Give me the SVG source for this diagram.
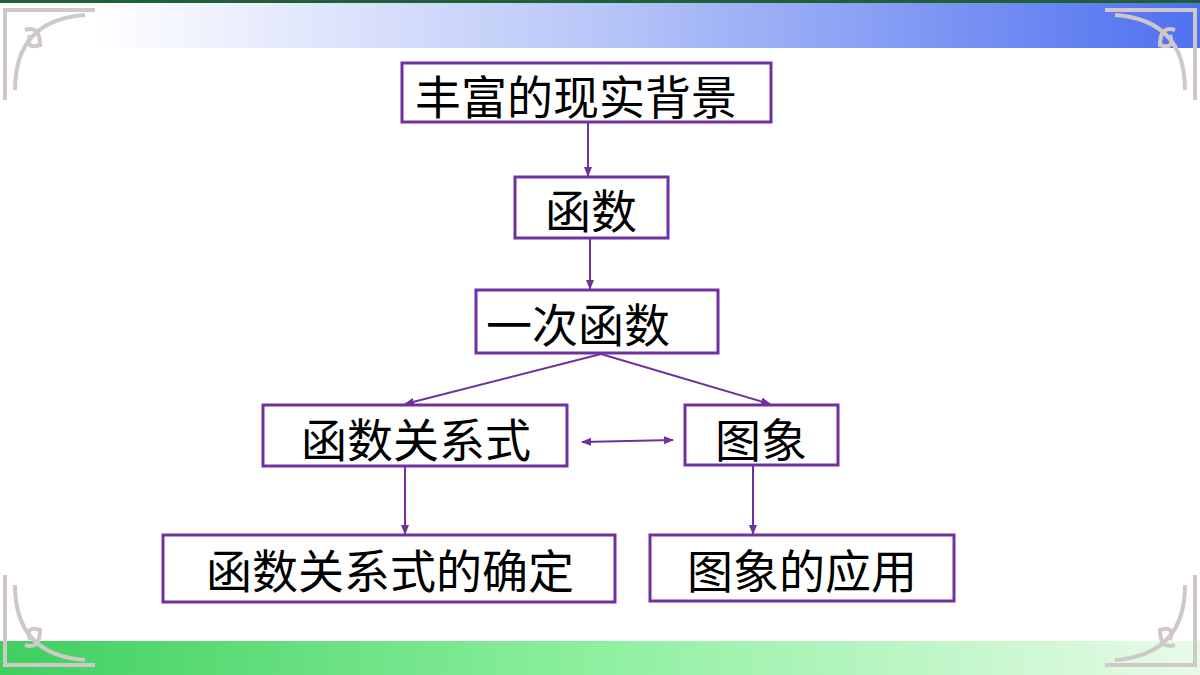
<svg xmlns="http://www.w3.org/2000/svg" width="1200" height="675" viewBox="0 0 1200 675">
<defs>
<linearGradient id="top" x1="0" x2="1" y1="0" y2="0"><stop offset="0.08" stop-color="#ffffff"/><stop offset="0.5" stop-color="#b8c6f8"/><stop offset="1" stop-color="#4f70f0"/></linearGradient>
<linearGradient id="bot" x1="0" x2="1" y1="0" y2="0"><stop offset="0" stop-color="#3fcf5f"/><stop offset="0.5" stop-color="#8ef0a0"/><stop offset="1" stop-color="#e8fbe8"/></linearGradient>
<marker id="ah" viewBox="0 0 10 10" refX="9" refY="5" markerWidth="5" markerHeight="5" orient="auto-start-reverse"><path d="M0,1 L10,5 L0,9 z" fill="#7030a0"/></marker>
</defs>
<style>
.box{fill:#fff;stroke:#7030a0;stroke-width:3}
.t{font-family:"Noto Sans CJK SC",sans-serif;font-size:46px;fill:#000;text-anchor:middle;dominant-baseline:central}
.c{stroke:#7030a0;stroke-width:2;fill:none;marker-end:url(#ah)}
.orn{stroke:#d0c8c8;stroke-width:4;fill:none}
</style>
<rect width="1200" height="675" fill="#fff"/>
<rect x="0" y="3" width="1200" height="45" fill="url(#top)"/>
<rect x="0" y="0" width="1200" height="3" fill="#1f5f3a"/>
<rect x="0" y="641" width="1200" height="34" fill="url(#bot)"/>
<g class="orn">
<path d="M5,100 V10 H95 M15,90 Q15,20 85,15 M25,30 Q40,25 40,45 Q25,50 30,35"/>
<path d="M1195,100 V10 H1105 M1185,90 Q1185,20 1115,15 M1175,30 Q1160,25 1160,45 Q1175,50 1170,35"/>
<path d="M5,575 V665 H95 M15,585 Q15,655 85,660 M25,645 Q40,650 40,630 Q25,625 30,640"/>
<path d="M1195,575 V665 H1105 M1185,585 Q1185,655 1115,660 M1175,645 Q1160,650 1160,630 Q1175,625 1170,640"/>
</g>
<g id="connectors">
<line class="c" x1="588" y1="122" x2="588" y2="176"/>
<line class="c" x1="590" y1="238" x2="590" y2="289"/>
<line class="c" x1="601" y1="354" x2="405" y2="404"/>
<line class="c" x1="601" y1="354" x2="770" y2="404"/>
<line class="c" x1="582" y1="442" x2="673" y2="440" marker-start="url(#ah)"/>
<line class="c" x1="405" y1="466" x2="405" y2="534"/>
<line class="c" x1="753" y1="465" x2="753" y2="534"/>
</g>
<g id="n1"><rect class="box" x="402" y="63" width="369" height="59"/><text class="t" x="576" y="94">丰富的现实背景</text></g>
<g id="n2"><rect class="box" x="515" y="177" width="153" height="61"/><text class="t" x="591" y="208">函数</text></g>
<g id="n3"><rect class="box" x="476" y="290" width="242" height="63"/><text class="t" x="578" y="322">一次函数</text></g>
<g id="n4"><rect class="box" x="263" y="405" width="304" height="61"/><text class="t" x="416" y="437">函数关系式</text></g>
<g id="n5"><rect class="box" x="685" y="405" width="153" height="60"/><text class="t" x="761" y="437">图象</text></g>
<g id="n6"><rect class="box" x="163" y="535" width="452" height="67"/><text class="t" x="390" y="568">函数关系式的确定</text></g>
<g id="n7"><rect class="box" x="650" y="535" width="304" height="66"/><text class="t" x="802" y="568">图象的应用</text></g>
</svg>
